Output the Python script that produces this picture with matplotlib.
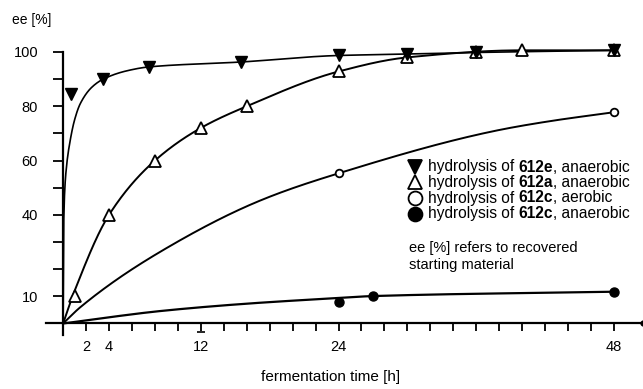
import numpy as np
import matplotlib
matplotlib.use("Agg")
import matplotlib.pyplot as plt

plt.rcParams['font.family'] = ['Liberation Sans', 'DejaVu Sans']

# --- measured points (time in h, ee in %) ---
t_612e_an = [0.7, 3.5, 7.5, 15.5, 24, 30, 36, 48]
ee_612e_an = [84.5, 90, 94.5, 96.3, 98.9, 99.2, 99.8, 100.9]

t_612a_an = [1, 4, 8, 12, 16, 24, 30, 36, 40, 48]
ee_612a_an = [10, 40, 60, 72, 80, 93, 98, 99.8, 100.9, 100.9]

t_612c_aer = [24, 48]
ee_612c_aer = [55.3, 77.8]

t_612c_an = [24, 27, 48]
ee_612c_an = [8.0, 10.1, 11.7]

# --- hand-drawn trend curves (control points along each curve) ---
curve_612e_t = [0, 0.02, 0.1, 0.3, 0.6, 1.0, 1.5, 2.5, 3.5, 5.5, 7.5, 15.5, 24, 30, 36, 48]
curve_612e_ee = [0, 25, 45, 58, 67, 75, 81, 87, 90, 93, 94.5, 96.3, 98.7, 99.2, 99.8, 100.6]

curve_612a_t = [0, 1, 4, 8, 12, 16, 24, 30, 40, 48]
curve_612a_ee = [0, 12, 40, 60, 72, 80, 92.8, 98, 100.6, 100.6]

curve_aer_t = [0, 1.5, 8.5, 17.3, 24, 37.7, 42.4, 48]
curve_aer_ee = [0, 6, 26.5, 45.5, 55.3, 71, 74.5, 77.8]

curve_an_t = [0, 3.3, 8.5, 16, 23.2, 27, 48]
curve_an_ee = [0, 1.9, 4.6, 7.3, 9.2, 10.1, 11.7]

x_ticks = list(range(0, 49, 2))
x_labels = {2: "2", 4: "4", 12: "12", 24: "24", 48: "48"}
y_ticks = list(range(0, 101, 10))
y_labels = {10: "10", 40: "40", 60: "60", 80: "80", 100: "100"}

legend_rows = [
    ("v", "black", "612e", ", anaerobic"),
    ("^", "white", "612a", ", anaerobic"),
    ("o", "white", "612c", ", aerobic"),
    ("o", "black", "612c", ", anaerobic"),
]


def pchip(x, y, xs):
    """Monotone cubic Hermite curve through (x, y), sampled at xs."""
    x = np.asarray(x, float)
    y = np.asarray(y, float)
    h = np.diff(x)
    d = np.diff(y) / h
    m = np.zeros_like(y)
    for k in range(1, len(x) - 1):
        if d[k - 1] * d[k] > 0:
            w1 = 2 * h[k] + h[k - 1]
            w2 = h[k] + 2 * h[k - 1]
            m[k] = (w1 + w2) / (w1 / d[k - 1] + w2 / d[k])
    m[0] = d[0]
    m[-1] = d[-1]
    idx = np.clip(np.searchsorted(x, xs) - 1, 0, len(h) - 1)
    s = (xs - x[idx]) / h[idx]
    h00 = 2 * s**3 - 3 * s**2 + 1
    h10 = s**3 - 2 * s**2 + s
    h01 = -2 * s**3 + 3 * s**2
    h11 = s**3 - s**2
    return (h00 * y[idx] + h10 * h[idx] * m[idx]
            + h01 * y[idx + 1] + h11 * h[idx] * m[idx + 1])


W, H = 643, 389
fig = plt.figure(figsize=(W / 100, H / 100), dpi=100)


def fx(px):
    return px / W


def fy(py):
    return 1 - py / H


# axes placed so that t=0 sits at x=63 px and ee=0 at y=323.5 px
ax = fig.add_axes([fx(40), fy(345), fx(603), (345 - 40) / H])
ax.set_xlim(-2.014, 50.53)
ax.set_ylim(-7.92, 104.4)
ax.patch.set_alpha(0)

for s in ("top", "right"):
    ax.spines[s].set_visible(False)
ax.spines["bottom"].set_position(("data", 0))
ax.spines["left"].set_position(("data", 0))
ax.spines["bottom"].set_bounds(-1.5, 50.5)
ax.spines["left"].set_bounds(-4.3, 100)
for s in ("bottom", "left"):
    ax.spines[s].set_linewidth(1.6)

ax.set_xticks(x_ticks)
ax.set_xticklabels([x_labels.get(v, "") for v in x_ticks], fontsize=10.5)
ax.set_yticks(y_ticks)
ax.set_yticklabels([y_labels.get(v, "") for v in y_ticks], fontsize=10.5)
ax.tick_params(axis="x", direction="out", length=6, width=1.3, pad=6)
ax.tick_params(axis="y", direction="out", length=7, width=1.3, pad=11)

# end dot of the time axis and the small bar under the 12 h tick
ax.plot([50.5], [0], "o", color="black", ms=3.5, clip_on=False)
ax.plot([12], [-3.1], "_", color="black", ms=6, mew=1.2, clip_on=False)

# trend curves
for ct, ce, lw in ((curve_612e_t, curve_612e_ee, 1.2),
                   (curve_612a_t, curve_612a_ee, 1.4),
                   (curve_aer_t, curve_aer_ee, 1.4),
                   (curve_an_t, curve_an_ee, 1.6)):
    ts = np.linspace(ct[0], ct[-1], 800)
    ax.plot(ts, pchip(ct, ce, ts), color="black", lw=lw, clip_on=False)

# data markers
ax.plot(t_612a_an, ee_612a_an, "^", mfc="white", mec="black", mew=1.3, ms=8.5,
        ls="none", clip_on=False, zorder=3)
ax.plot(t_612e_an, ee_612e_an, "v", color="black", ms=8.5, ls="none",
        clip_on=False, zorder=4)
ax.plot(t_612c_aer, ee_612c_aer, "o", mfc="white", mec="black", mew=1.3, ms=5.5,
        ls="none", clip_on=False, zorder=3)
ax.plot(t_612c_an, ee_612c_an, "o", color="black", ms=6.5, ls="none",
        clip_on=False, zorder=3)

# axis titles
fig.text(fx(12), fy(20), "ee [%]", fontsize=10, va="center", ha="left")
fig.text(fx(331), fy(377), "fermentation time [h]", fontsize=11,
         va="center", ha="center")

# legend block
row_y = [167, 182.5, 198, 213.5]
for (mk, fc, comp, tail), ry in zip(legend_rows, row_y):
    ax.plot([fx(415)], [fy(ry)], mk, transform=fig.transFigure, mfc=fc,
            mec="black", mew=1.3, ms=10, clip_on=False)
    t1 = fig.text(fx(428), fy(ry), "hydrolysis of ", fontsize=11.2,
                  va="center", ha="left")
    t2 = ax.annotate(comp, xy=(1, 0), xycoords=t1, va="bottom", ha="left",
                     fontsize=11.2, fontweight="bold")
    ax.annotate(tail, xy=(1, 0), xycoords=t2, va="bottom", ha="left",
                fontsize=11.2)

fig.text(fx(409), fy(248), "ee [%] refers to recovered", fontsize=10.5,
         va="center", ha="left")
fig.text(fx(409), fy(265), "starting material", fontsize=10.5,
         va="center", ha="left")

fig.savefig("out.png", dpi=100)
